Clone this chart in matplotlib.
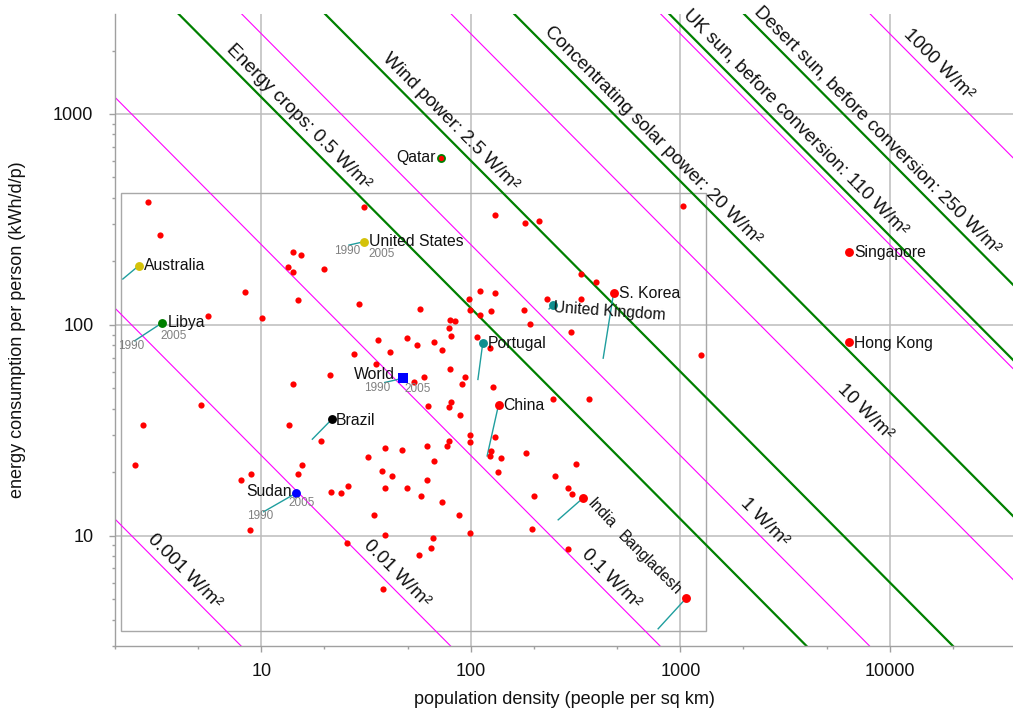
import numpy as np
import matplotlib
matplotlib.use('Agg')
import matplotlib.pyplot as plt
from matplotlib.ticker import FixedLocator, NullFormatter
from matplotlib.patches import Rectangle

plt.rcParams['font.family'] = ['Liberation Sans', 'DejaVu Sans']

# --- data: unlabelled countries (2005), population density vs energy use ---
density = [2.87, 3.27, 30.8, 130, 181, 211, 1030, 8.35, 5.56, 10.1,
           14.1, 15.4, 13.4, 14.1, 19.9, 14.9, 29.2, 36.2, 49.3, 41.0,
           27.7, 35.4, 21.2, 14.2, 5.17, 2.71, 13.6, 19.3, 38.7, 46.8,
           337, 395, 335, 230, 180, 192, 301, 110, 130, 97.4,
           57.0, 79.6, 84.0, 98.5, 111, 125, 78.2, 80.4, 55.0, 67.0,
           72.4, 107, 123, 79.3, 93.5, 90.8, 59.8, 53.5, 127, 1250,
           247, 366, 62.3, 80.4, 78.4, 88.8, 99.1, 99.5, 131, 78.2,
           77.3, 61.4, 32.4, 66.7, 15.6, 14.9, 37.5, 42.0, 62.0, 25.8,
           21.6, 24.1, 38.7, 49.8, 57.8, 72.9, 34.4, 87.5, 39.1, 99.5,
           66.0, 64.6, 25.5, 56.4, 2.48, 8.03, 8.92, 8.82, 38.2, 125,
           123, 139, 134, 183, 317, 252, 292, 304, 201, 196, 292]
energy = [381, 268, 364, 331, 305, 311, 368, 143, 110, 108,
          222, 214, 189, 178, 184, 131, 125, 84.9, 86.5, 74.5,
          72.6, 65.1, 58.0, 52.5, 41.8, 33.6, 33.6, 28.1, 26.0, 25.6,
          174, 159, 132, 133, 117, 101, 92.6, 144, 141, 132,
          119, 106, 104, 117, 111, 116, 97.1, 89.0, 80.4, 83.3,
          76.1, 87.4, 77.5, 61.7, 56.7, 52.4, 56.3, 53.8, 50.7, 71.8,
          44.7, 44.6, 41.2, 43.0, 40.7, 37.2, 30.2, 27.7, 29.4, 28.1,
          26.7, 26.7, 23.6, 22.7, 21.6, 19.7, 20.3, 19.1, 18.3, 17.2,
          16.1, 15.9, 16.9, 16.9, 15.4, 14.4, 12.6, 12.6, 10.1, 10.3,
          9.8, 8.74, 9.27, 8.13, 21.7, 18.4, 19.7, 10.7, 5.61, 25.3,
          23.9, 23.4, 20.1, 24.8, 21.9, 19.3, 16.9, 15.7, 15.4, 10.8, 8.61]

# --- labelled countries: 1990 and 2005 positions ---
names = ['Qatar', 'United States', 'Australia', 'Libya', 'Brazil', 'World',
         'Sudan', 'Portugal', 'United Kingdom', 'S. Korea', 'China', 'India',
         'Bangladesh', 'Singapore', 'Hong Kong']
dens_1990 = [71.8, 26.2, 2.18, 2.48, 17.5, 38.8, 10.25, 108, 236, 428, 119.5, 261, 783, 6380, 6390]
ener_1990 = [621, 239, 165, 84.0, 28.7, 53.3, 13.0, 55.1, 119, 69.5, 23.9, 11.9, 3.62, 222.6, 82.8]
dens_2005 = [71.8, 30.9, 2.60, 3.37, 21.7, 47.5, 14.6, 114, 247, 480, 135.5, 343, 1062, 6380, 6390]
ener_2005 = [621, 248, 191, 102.5, 35.7, 55.9, 15.9, 82.4, 124.4, 141.8, 41.8, 15.1, 5.04, 222.6, 82.8]
has_trail = [False, True, True, True, True, True, True, True, True, True, True, True, True, False, False]

# --- lines of constant power per unit area (W/m2) ---
magenta_powers = [0.001, 0.01, 0.1, 1, 10, 100, 1000]
magenta_labels = ['0.001 W/m²', '0.01 W/m²', '0.1 W/m²', '1 W/m²', '10 W/m²', '', '1000 W/m²']
green_powers = [0.5, 2.5, 20, 110, 250]
green_labels = ['Energy crops: 0.5 W/m²', 'Wind power: 2.5 W/m²',
                'Concentrating solar power: 20 W/m²',
                'UK sun, before conversion: 110 W/m²',
                'Desert sun, before conversion: 250 W/m²']

# layout: density where each line label sits
magenta_label_at = [3.89, 40.1, 425, 2290, 6890, None, 15500]
green_label_at = [13.6, 72, 671, 3200, 7910]

marker_colours = {'Qatar': '#008000', 'United States': '#d4c20a', 'Australia': '#d4c20a',
                  'Libya': '#008000', 'Brazil': 'black', 'World': '#0000ff', 'Sudan': '#0000ff',
                  'Portugal': '#0e8f8f', 'United Kingdom': '#0e8f8f'}
# name label: (dx, dy) in pixels, ha, rotation
name_pos = {'Qatar': (-5, 0, 'right', 0), 'United States': (5, 0, 'left', 0),
            'Australia': (5, 0, 'left', 0), 'Libya': (5, 0, 'left', 0),
            'Brazil': (4, -1, 'left', 0), 'World': (-8, 4, 'right', 0),
            'Sudan': (-4, 2, 'right', 0), 'Portugal': (5, -1, 'left', 0),
            'United Kingdom': (56, -7, 'center', -4), 'S. Korea': (5, -1, 'left', 0),
            'China': (5, -1, 'left', 0), 'India': (18, -15, 'center', -47),
            'Bangladesh': (-36, 35, 'center', -45), 'Singapore': (5, -1, 'left', 0),
            'Hong Kong': (5, -1, 'left', 0)}
year_pos = {'United States': ((-2, -6), (18, -12)), 'Libya': ((-3, -5), (11, -13)),
            'World': ((-8, -6), (14, -11)), 'Sudan': ((-3, -4), (6, -10))}

W, H = 1013, 717
fig = plt.figure(figsize=(W / 100, H / 100), dpi=100)
ax = fig.add_axes([115 / W, 71 / H, 898 / W, 632 / H])
ax.set_xscale('log')
ax.set_yscale('log')
ax.set_xlim(2, 38700)
ax.set_ylim(3.0, 2980)

grid_c = '#bcbcbc'
for v in [10, 100, 1000, 10000]:
    ax.axvline(v, color=grid_c, lw=1.1, zorder=0)
for v in [10, 100, 1000]:
    ax.axhline(v, color=grid_c, lw=1.1, zorder=0)

ax.add_patch(Rectangle((2.14, 3.55), 1320 - 2.14, 421 - 3.55, fill=False,
                       edgecolor='#a8a8a8', lw=1.0, zorder=1))

d_line = np.logspace(0, 5, 50)
for p in magenta_powers:
    ax.plot(d_line, 24000 * p / d_line, color='#ff00ff', lw=0.8, zorder=2)
for p in green_powers:
    ax.plot(d_line, 24000 * p / d_line, color='#008000', lw=1.6, zorder=2)

# screen angle of a constant-power line
p0 = ax.transData.transform((10, 2400))
p1 = ax.transData.transform((1000, 24))
ang = np.degrees(np.arctan2(p1[1] - p0[1], p1[0] - p0[0]))

line_fs = 13.5
for p, lab, dl in zip(magenta_powers + green_powers, magenta_labels + green_labels,
                      magenta_label_at + green_label_at):
    if not lab:
        continue
    ax.annotate(lab, xy=(dl, 24000 * p / dl), xytext=(9, 9), textcoords='offset pixels',
                rotation=ang, rotation_mode='anchor', ha='center', va='center',
                fontsize=line_fs, color='#111111', zorder=6)

# unlabelled countries
ax.scatter(density, energy, s=20, color='#ff0000', lw=0, zorder=4)

trail_c = '#1f9e9e'
for i, n in enumerate(names):
    if has_trail[i]:
        ax.plot([dens_1990[i], dens_2005[i]], [ener_1990[i], ener_2005[i]],
                color=trail_c, lw=1.0, zorder=3)
    col = marker_colours.get(n, '#ff0000')
    mk = 's' if n == 'World' else 'o'
    ms = 7.8 if n == 'World' else 6.4
    ax.plot(dens_2005[i], ener_2005[i], marker=mk, ms=ms, color=col, mew=0,
            ls='none', zorder=5)
    if n == 'Qatar':
        ax.plot(dens_2005[i], ener_2005[i], marker='o', ms=3.8, color='#ff0000',
                mew=0, ls='none', zorder=5)
    dx, dy, ha, rot = name_pos[n]
    ax.annotate(n, xy=(dens_2005[i], ener_2005[i]), xytext=(dx, dy),
                textcoords='offset pixels', ha=ha, va='center', rotation=rot,
                rotation_mode='anchor', fontsize=11.3, color='#111111', zorder=6)
    if n in year_pos:
        o90, o05 = year_pos[n]
        ax.annotate('1990', xy=(dens_1990[i], ener_1990[i]), xytext=o90,
                    textcoords='offset pixels', ha='center', va='center',
                    fontsize=8.5, color='#808080', zorder=6)
        ax.annotate('2005', xy=(dens_2005[i], ener_2005[i]), xytext=o05,
                    textcoords='offset pixels', ha='center', va='center',
                    fontsize=8.5, color='#808080', zorder=6)

# axes styling
for s in ['top', 'right']:
    ax.spines[s].set_visible(False)
for s in ['left', 'bottom']:
    ax.spines[s].set_color('#a0a0a0')
    ax.spines[s].set_linewidth(1.0)

ax.xaxis.set_major_locator(FixedLocator([10, 100, 1000, 10000]))
ax.xaxis.set_minor_locator(FixedLocator([m * 10 ** k for k in range(0, 5) for m in (2, 5)]))
ax.yaxis.set_major_locator(FixedLocator([10, 100, 1000]))
ax.yaxis.set_minor_locator(FixedLocator([m * 10 ** k for k in range(0, 4) for m in range(2, 10)]))
ax.set_xticklabels(['10', '100', '1000', '10000'])
ax.set_yticklabels(['10', '100', '1000'])
ax.xaxis.set_minor_formatter(NullFormatter())
ax.yaxis.set_minor_formatter(NullFormatter())
ax.tick_params(which='major', length=4.5, width=1.0, color='#a0a0a0', labelsize=13,
               labelcolor='#111111')
ax.tick_params(which='minor', length=2.5, width=1.0, color='#a0a0a0')
ax.tick_params(axis='x', which='major', pad=8)
ax.tick_params(axis='y', which='major', pad=11)

fig.text(564 / W, 1 - 700 / H, 'population density (people per sq km)', ha='center',
         va='center', fontsize=13, color='#111111')
fig.text(18 / W, 1 - 330 / H, 'energy consumption per person (kWh/d/p)', ha='center',
         va='center', rotation=90, fontsize=13, color='#111111')

fig.savefig('out.png', dpi=100)
